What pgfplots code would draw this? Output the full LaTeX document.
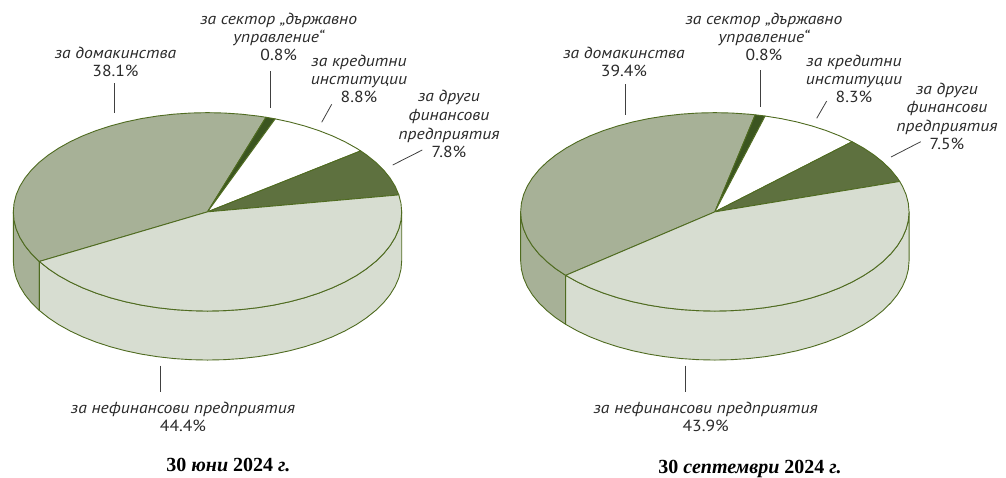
\documentclass[border=0pt]{standalone}
\usepackage{pgfplots}
\usepackage{pgfplotstable}
\usepackage{fontspec}
\pgfplotsset{compat=1.18}
\setmainfont[FakeStretch=1.1]{PT Sans}
\newfontfamily\ttl{Liberation Serif}
\definecolor{cdom}{HTML}{A7B197}
\definecolor{cnef}{HTML}{D7DDD1}
\definecolor{coth}{HTML}{5E713F}
\definecolor{cgov}{HTML}{3B5520}
\definecolor{cedge}{HTML}{4F6B20}
\definecolor{ctxt}{HTML}{2A2A2A}
% columns: t = angle on the ellipse (from each share), r = 1 on the rim and 0 at the apex, h = 1 on the lower rim
% 30 June 2024: 38.1, 0.8, 8.8, 7.8, 44.4
\pgfplotstableread[row sep=\\]{t r h\\0 0 0\\72.48 1 0\\75 1 0\\80 1 0\\85 1 0\\90 1 0\\95 1 0\\100 1 0\\105 1 0\\110 1 0\\115 1 0\\120 1 0\\125 1 0\\130 1 0\\135 1 0\\140 1 0\\145 1 0\\150 1 0\\155 1 0\\160 1 0\\165 1 0\\170 1 0\\175 1 0\\180 1 0\\185 1 0\\190 1 0\\195 1 0\\200 1 0\\205 1 0\\210 1 0\\0 0 0\\}\aDom
\pgfplotstableread[row sep=\\]{t r h\\0 0 0\\69.6 1 0\\71 1 0\\72.48 1 0\\0 0 0\\}\aGov
\pgfplotstableread[row sep=\\]{t r h\\0 0 0\\37.92 1 0\\40 1 0\\45 1 0\\50 1 0\\55 1 0\\60 1 0\\65 1 0\\69.6 1 0\\0 0 0\\}\aCre
\pgfplotstableread[row sep=\\]{t r h\\0 0 0\\9.84 1 0\\15 1 0\\20 1 0\\25 1 0\\30 1 0\\35 1 0\\37.92 1 0\\0 0 0\\}\aOth
\pgfplotstableread[row sep=\\]{t r h\\0 0 0\\210 1 0\\215 1 0\\220 1 0\\225 1 0\\230 1 0\\235 1 0\\240 1 0\\245 1 0\\250 1 0\\255 1 0\\260 1 0\\265 1 0\\270 1 0\\275 1 0\\280 1 0\\285 1 0\\290 1 0\\295 1 0\\300 1 0\\305 1 0\\310 1 0\\315 1 0\\320 1 0\\325 1 0\\330 1 0\\335 1 0\\340 1 0\\345 1 0\\350 1 0\\355 1 0\\360 1 0\\365 1 0\\369.84 1 0\\0 0 0\\}\aNef
\pgfplotstableread[row sep=\\]{t r h\\180 1 0\\185 1 0\\190 1 0\\195 1 0\\200 1 0\\205 1 0\\210 1 0\\210 1 1\\205 1 1\\200 1 1\\195 1 1\\190 1 1\\185 1 1\\180 1 1\\180 1 0\\}\aWallDom
\pgfplotstableread[row sep=\\]{t r h\\210 1 0\\215 1 0\\220 1 0\\225 1 0\\230 1 0\\235 1 0\\240 1 0\\245 1 0\\250 1 0\\255 1 0\\260 1 0\\265 1 0\\270 1 0\\275 1 0\\280 1 0\\285 1 0\\290 1 0\\295 1 0\\300 1 0\\305 1 0\\310 1 0\\315 1 0\\320 1 0\\325 1 0\\330 1 0\\335 1 0\\340 1 0\\345 1 0\\350 1 0\\355 1 0\\360 1 0\\360 1 1\\355 1 1\\350 1 1\\345 1 1\\340 1 1\\335 1 1\\330 1 1\\325 1 1\\320 1 1\\315 1 1\\310 1 1\\305 1 1\\300 1 1\\295 1 1\\290 1 1\\285 1 1\\280 1 1\\275 1 1\\270 1 1\\265 1 1\\260 1 1\\255 1 1\\250 1 1\\245 1 1\\240 1 1\\235 1 1\\230 1 1\\225 1 1\\220 1 1\\215 1 1\\210 1 1\\210 1 0\\}\aWallNef
% 30 September 2024: 39.4, 0.8, 8.3, 7.5, 43.9
\pgfplotstableread[row sep=\\]{t r h\\0 0 0\\78 1 0\\80 1 0\\85 1 0\\90 1 0\\95 1 0\\100 1 0\\105 1 0\\110 1 0\\115 1 0\\120 1 0\\125 1 0\\130 1 0\\135 1 0\\140 1 0\\145 1 0\\150 1 0\\155 1 0\\160 1 0\\165 1 0\\170 1 0\\175 1 0\\180 1 0\\185 1 0\\190 1 0\\195 1 0\\200 1 0\\205 1 0\\210 1 0\\215 1 0\\219.8 1 0\\0 0 0\\}\bDom
\pgfplotstableread[row sep=\\]{t r h\\0 0 0\\75 1 0\\76.5 1 0\\78 1 0\\0 0 0\\}\bGov
\pgfplotstableread[row sep=\\]{t r h\\0 0 0\\45 1 0\\50 1 0\\55 1 0\\60 1 0\\65 1 0\\70 1 0\\75 1 0\\0 0 0\\}\bCre
\pgfplotstableread[row sep=\\]{t r h\\0 0 0\\17.84 1 0\\20 1 0\\25 1 0\\30 1 0\\35 1 0\\40 1 0\\45 1 0\\0 0 0\\}\bOth
\pgfplotstableread[row sep=\\]{t r h\\0 0 0\\219.8 1 0\\225 1 0\\230 1 0\\235 1 0\\240 1 0\\245 1 0\\250 1 0\\255 1 0\\260 1 0\\265 1 0\\270 1 0\\275 1 0\\280 1 0\\285 1 0\\290 1 0\\295 1 0\\300 1 0\\305 1 0\\310 1 0\\315 1 0\\320 1 0\\325 1 0\\330 1 0\\335 1 0\\340 1 0\\345 1 0\\350 1 0\\355 1 0\\360 1 0\\365 1 0\\370 1 0\\375 1 0\\377.84 1 0\\0 0 0\\}\bNef
\pgfplotstableread[row sep=\\]{t r h\\180 1 0\\185 1 0\\190 1 0\\195 1 0\\200 1 0\\205 1 0\\210 1 0\\215 1 0\\219.8 1 0\\219.8 1 1\\215 1 1\\210 1 1\\205 1 1\\200 1 1\\195 1 1\\190 1 1\\185 1 1\\180 1 1\\180 1 0\\}\bWallDom
\pgfplotstableread[row sep=\\]{t r h\\219.8 1 0\\225 1 0\\230 1 0\\235 1 0\\240 1 0\\245 1 0\\250 1 0\\255 1 0\\260 1 0\\265 1 0\\270 1 0\\275 1 0\\280 1 0\\285 1 0\\290 1 0\\295 1 0\\300 1 0\\305 1 0\\310 1 0\\315 1 0\\320 1 0\\325 1 0\\330 1 0\\335 1 0\\340 1 0\\345 1 0\\350 1 0\\355 1 0\\360 1 0\\360 1 1\\355 1 1\\350 1 1\\345 1 1\\340 1 1\\335 1 1\\330 1 1\\325 1 1\\320 1 1\\315 1 1\\310 1 1\\305 1 1\\300 1 1\\295 1 1\\290 1 1\\285 1 1\\280 1 1\\275 1 1\\270 1 1\\265 1 1\\260 1 1\\255 1 1\\250 1 1\\245 1 1\\240 1 1\\235 1 1\\230 1 1\\225 1 1\\219.8 1 1\\219.8 1 0\\}\bWallNef
\newcommand{\piepart}[3]{\addplot[draw=cedge,line width=0.9pt,line join=round,fill=#2] table[x expr={#1+194.2*\thisrow{r}*cos(\thisrow{t})},y expr={211.85-99.2*\thisrow{r}*sin(\thisrow{t})+49*\thisrow{h}}] {#3};}
\newcommand{\lbl}[3]{\node[anchor=base,text=ctxt,font=\fontsize{16}{18}\selectfont,inner sep=0pt] at (axis cs:#1,#2) {#3};}
\newcommand{\leader}[4]{\addplot[draw=black!75,line width=0.8pt] coordinates {(#1,#2) (#3,#4)};}
\begin{document}
\begin{tikzpicture}
\useasboundingbox (0,0) rectangle (1006pt,477pt);
\begin{axis}[scale only axis,width=1006pt,height=477pt,xmin=0,xmax=1006,ymin=0,ymax=477,y dir=reverse,hide axis,clip=false]
% left pie
\piepart{207.5}{cdom}{\aWallDom}
\piepart{207.5}{cnef}{\aWallNef}
\piepart{207.5}{cdom}{\aDom}
\piepart{207.5}{cgov}{\aGov}
\piepart{207.5}{white}{\aCre}
\piepart{207.5}{coth}{\aOth}
\piepart{207.5}{cnef}{\aNef}
\leader{114}{83}{114}{113}
\leader{270.7}{71}{270.7}{108}
\leader{331.7}{104.3}{321.7}{122.3}
\leader{422.3}{150}{392.7}{165}
\leader{160}{365.7}{160}{391.7}
% right pie
\piepart{714.85}{cdom}{\bWallDom}
\piepart{714.85}{cnef}{\bWallNef}
\piepart{714.85}{cdom}{\bDom}
\piepart{714.85}{cgov}{\bGov}
\piepart{714.85}{white}{\bCre}
\piepart{714.85}{coth}{\bOth}
\piepart{714.85}{cnef}{\bNef}
\leader{625}{84}{625}{115}
\leader{760.7}{70}{760.7}{107}
\leader{826.7}{101}{816.7}{118.3}
\leader{920.7}{141.7}{891}{157}
\leader{685.7}{365.7}{685.7}{392}
% left labels
\lbl{278.7}{24}{\itshape за сектор „държавно}
\lbl{278.7}{42}{\itshape управление“}
\lbl{278.7}{60}{0.8\%}
\lbl{115.5}{58}{\itshape за домакинства}
\lbl{115.5}{76}{38.1\%}
\lbl{359}{66}{\itshape за кредитни}
\lbl{359}{84}{\itshape институции}
\lbl{359}{102}{8.8\%}
\lbl{449}{101}{\itshape за други}
\lbl{449}{120}{\itshape финансови}
\lbl{449}{139}{\itshape предприятия}
\lbl{449}{157}{7.8\%}
\lbl{183}{413}{\itshape за нефинансови предприятия}
\lbl{183}{431}{44.4\%}
\node[anchor=base,inner sep=0pt,font=\ttl\bfseries\fontsize{20}{22}\selectfont] at (axis cs:228.3,471) {30 \textit{юни} 2024 \textit{г.}};
% right labels
\lbl{764}{24}{\itshape за сектор „държавно}
\lbl{764}{42}{\itshape управление“}
\lbl{764}{60}{0.8\%}
\lbl{624}{58}{\itshape за домакинства}
\lbl{624}{76}{39.4\%}
\lbl{854}{66}{\itshape за кредитни}
\lbl{854}{84}{\itshape институции}
\lbl{854}{102}{8.3\%}
\lbl{947}{94}{\itshape за други}
\lbl{947}{112}{\itshape финансови}
\lbl{947}{131}{\itshape предприятия}
\lbl{947}{149}{7.5\%}
\lbl{705.7}{413}{\itshape за нефинансови предприятия}
\lbl{705.7}{431}{43.9\%}
\node[anchor=base,inner sep=0pt,font=\ttl\bfseries\fontsize{20}{22}\selectfont] at (axis cs:750,473) {30 \textit{септември} 2024 \textit{г.}};
\end{axis}
\end{tikzpicture}
\end{document}
